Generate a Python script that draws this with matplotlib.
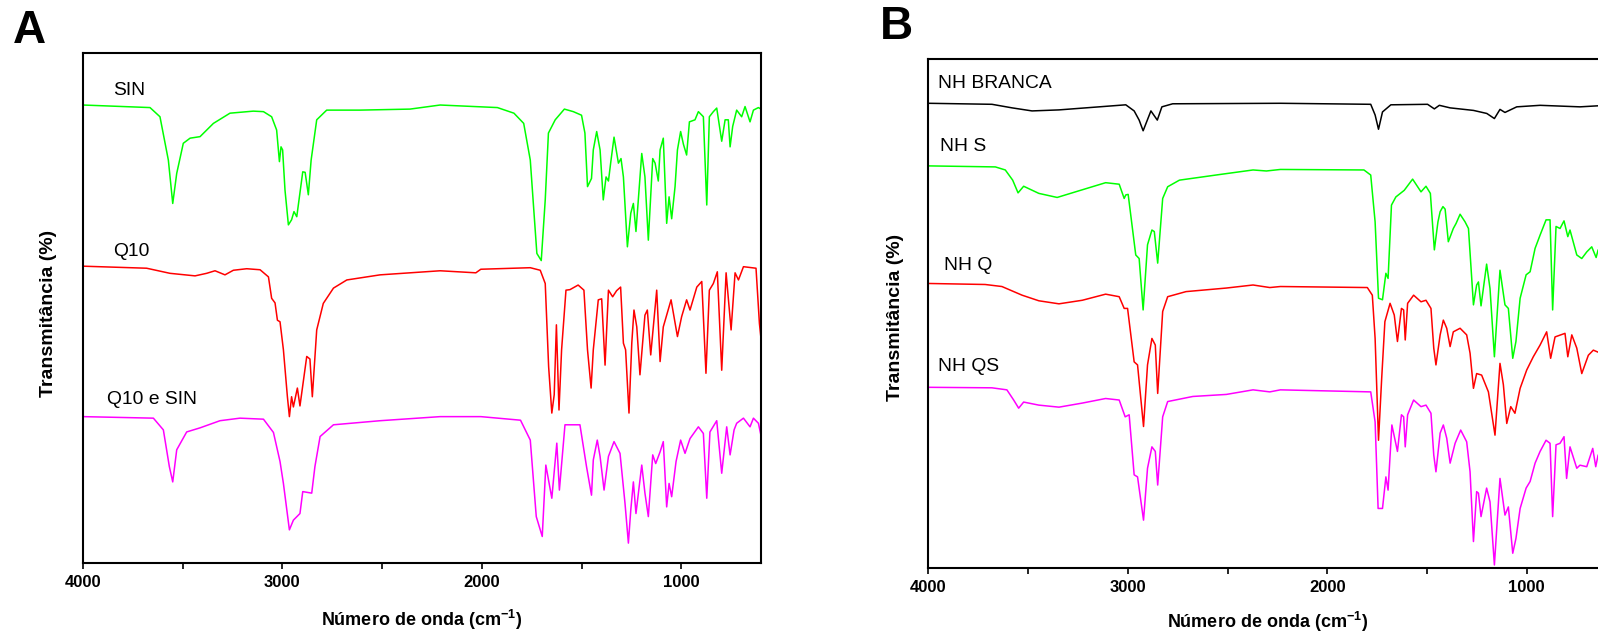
import matplotlib
matplotlib.use("Agg")
import matplotlib.pyplot as plt
from matplotlib.ticker import MultipleLocator

plt.rcParams['font.family'] = ['Liberation Sans', 'DejaVu Sans']
plt.rcParams['mathtext.fontset'] = 'custom'
plt.rcParams['mathtext.rm'] = 'Liberation Sans'
plt.rcParams['mathtext.bf'] = 'Liberation Sans:bold'

# ---------------- Panel A ----------------
sin_wn = [4000, 3664, 3614, 3572, 3550, 3530, 3497, 3463, 3413, 3346, 3263, 3146, 3095, 3054,
          3029, 3015, 3007, 2999, 2987, 2970, 2954, 2942, 2928, 2898, 2886, 2870, 2856, 2828,
          2778, 2611, 2360, 2209, 1922, 1839, 1790, 1757, 1724, 1702, 1682, 1666, 1632, 1586,
          1541, 1500, 1483, 1470, 1450, 1441, 1424, 1407, 1391, 1377, 1365, 1354, 1337, 1315,
          1302, 1290, 1270, 1253, 1240, 1227, 1198, 1182, 1165, 1143, 1131, 1115, 1106, 1090,
          1073, 1061, 1048, 1031, 1019, 1003, 989, 973, 959, 931, 914, 889, 872, 859, 839, 822,
          797, 780, 764, 755, 742, 722, 697, 680, 655, 638, 613, 600]
sin_t = [89.8, 89.3, 87.5, 79.0, 70.5, 76.4, 82.3, 83.3, 83.6, 86.2, 88.2, 88.6, 88.5, 87.5,
         84.9, 78.7, 81.6, 81.0, 73.1, 66.3, 67.3, 68.9, 67.9, 76.7, 76.6, 72.2, 79.0, 86.9,
         88.8, 88.8, 89.0, 89.8, 89.3, 88.2, 86.2, 79.0, 60.7, 59.3, 71.2, 84.3, 86.9, 89.0,
         88.5, 87.8, 84.3, 73.8, 75.4, 81.0, 84.6, 81.0, 71.2, 75.7, 74.9, 78.4, 83.5, 78.4,
         79.3, 75.7, 62.0, 68.6, 70.5, 65.0, 80.3, 75.7, 63.3, 79.3, 78.4, 74.9, 81.0, 83.3,
         66.6, 71.8, 67.5, 73.8, 81.0, 84.6, 82.1, 80.0, 86.5, 86.9, 88.5, 87.5, 70.2, 87.5, 88.5, 89.2,
         82.7, 86.9, 86.9, 81.6, 85.6, 88.8, 87.5, 89.5, 86.5, 88.8, 89.3, 89.0]

q10_wn = [4000, 3681, 3564, 3438, 3380, 3338, 3288, 3246, 3179, 3112, 3070, 3054, 3037, 3025,
          3012, 2995, 2975, 2965, 2954, 2945, 2925, 2912, 2878, 2862, 2850, 2828, 2795, 2744,
          2677, 2510, 2209, 2030, 2005, 1757, 1707, 1682, 1665, 1649, 1637, 1626, 1613, 1600,
          1578, 1558, 1517, 1488, 1470, 1452, 1441, 1416, 1399, 1382, 1365, 1344, 1324, 1304,
          1290, 1279, 1262, 1248, 1237, 1223, 1207, 1182, 1170, 1153, 1123, 1106, 1090, 1051,
          1019, 998, 973, 956, 922, 897, 876, 859, 839, 819, 797, 775, 750, 730, 713, 688, 625,
          608, 600]
q10_t = [58.2, 57.8, 56.8, 56.3, 56.8, 57.3, 56.5, 57.4, 57.7, 57.5, 56.1, 51.9, 51.0, 47.6,
         47.3, 41.8, 32.6, 28.7, 32.6, 30.6, 34.3, 30.8, 40.5, 40.0, 32.6, 45.7, 50.9, 53.9,
         55.5, 56.5, 57.3, 56.9, 57.6, 57.9, 57.4, 54.8, 38.5, 29.4, 33.0, 46.7, 30.0, 41.8,
         53.5, 53.6, 54.5, 53.5, 41.8, 34.3, 41.8, 51.6, 51.8, 38.8, 53.5, 52.2, 53.4, 54.1,
         43.1, 41.8, 29.4, 43.1, 49.6, 46.3, 36.9, 48.6, 49.6, 40.8, 53.5, 39.5, 46.3, 51.6,
         44.4, 48.3, 51.6, 49.6, 54.1, 55.2, 37.2, 53.5, 54.8, 57.1, 37.8, 56.9, 45.7, 56.9, 55.5, 58.1, 57.8,
         47.0, 44.0]

mix_wn = [4000, 3647, 3597, 3567, 3550, 3530, 3480, 3413, 3313, 3213, 3095, 3045, 3012, 2995,
          2965, 2945, 2912, 2898, 2853, 2837, 2811, 2744, 2510, 2209, 2005, 1806, 1757, 1727,
          1697, 1679, 1649, 1624, 1611, 1583, 1508, 1475, 1450, 1441, 1421, 1407, 1387, 1365,
          1337, 1307, 1282, 1265, 1253, 1240, 1227, 1198, 1182, 1165, 1143, 1128, 1106, 1090,
          1073, 1061, 1048, 1026, 1003, 981, 956, 914, 889, 872, 856, 822, 797, 772, 755, 735,
          722, 688, 655, 638, 613, 600]
mix_t = [28.7, 28.4, 26.1, 18.9, 15.9, 22.2, 25.7, 26.5, 27.9, 28.4, 28.2, 25.6, 19.9, 15.6,
         6.5, 8.4, 9.7, 14.0, 13.7, 18.9, 24.8, 27.1, 27.9, 28.7, 28.7, 28.0, 24.1, 9.1,
         5.2, 19.2, 12.7, 23.5, 14.3, 27.1, 27.1, 18.9, 13.3, 20.2, 24.1, 20.9, 14.3, 20.9,
         23.8, 21.5, 11.7, 3.9, 10.4, 15.9, 9.7, 19.2, 13.7, 9.1, 21.2, 19.5, 21.8, 23.8,
         11.0, 15.6, 13.0, 19.9, 24.1, 21.5, 24.4, 26.7, 25.4, 12.7, 25.7, 27.9, 17.6, 26.7, 21.2, 26.1,
         27.4, 28.4, 26.7, 28.4, 27.4, 25.0]

# ---------------- Panel B ----------------
branca_wn = [4000, 3681, 3580, 3480, 3345, 3144, 3010, 2968, 2943, 2923, 2884, 2852, 2829, 2775,
             2235, 1782, 1760, 1743, 1723, 1681, 1497, 1463, 1438, 1384, 1267, 1200, 1162, 1134,
             1109, 1050, 933, 733, 600]
branca_t = [91.3, 91.1, 90.4, 89.8, 90.0, 90.6, 91.0, 89.8, 88.0, 85.9, 89.8, 88.0, 90.6, 91.2,
            91.3, 91.1, 89.0, 86.2, 89.6, 91.0, 91.1, 90.2, 90.9, 90.4, 89.9, 89.3, 88.3, 90.1,
            89.5, 90.6, 90.9, 90.6, 90.9]

nhs_wn = [4000, 3664, 3614, 3577, 3550, 3522, 3446, 3354, 3262, 3111, 3043, 3018, 3010, 2998,
          2960, 2943, 2923, 2901, 2879, 2867, 2850, 2825, 2800, 2741, 2540, 2372, 2305, 2235,
          1816, 1782, 1760, 1743, 1723, 1706, 1695, 1678, 1656, 1614, 1572, 1530, 1505, 1483,
          1463, 1445, 1434, 1420, 1409, 1393, 1368, 1354, 1334, 1309, 1292, 1267, 1251, 1242,
          1229, 1201, 1184, 1162, 1134, 1109, 1092, 1070, 1054, 1033, 1003, 983, 958, 933, 903,
          883, 870, 853, 833, 813, 794, 783, 749, 724, 699, 674, 652, 642, 600]
nhs_t = [79.0, 78.8, 78.2, 76.2, 73.7, 75.0, 73.6, 72.8, 73.9, 75.7, 75.4, 72.6, 73.3, 73.4,
         61.5, 60.8, 50.7, 63.5, 66.4, 66.1, 59.9, 72.6, 74.9, 76.2, 77.3, 78.2, 78.0, 78.3,
         78.2, 77.2, 68.0, 53.0, 52.7, 57.9, 56.9, 71.3, 72.9, 74.2, 76.4, 73.9, 75.0, 73.6,
         62.5, 68.0, 70.0, 71.0, 70.5, 64.1, 66.7, 67.7, 69.5, 68.0, 66.7, 51.7, 55.6, 56.2,
         51.5, 59.7, 54.9, 41.5, 58.5, 51.7, 51.0, 41.2, 44.5, 53.0, 57.6, 58.2, 62.8, 65.4, 68.4,
         68.4, 50.7, 67.1, 66.7, 68.2, 65.1, 66.4, 61.5, 60.8, 62.1, 63.1, 61.0, 62.5, 62.0]

nhq_wn = [4000, 3715, 3631, 3530, 3446, 3345, 3228, 3111, 3043, 3018, 3001, 2968, 2951, 2921,
          2901, 2879, 2862, 2850, 2825, 2800, 2708, 2506, 2372, 2288, 2235, 1799, 1774, 1760,
          1743, 1727, 1711, 1685, 1664, 1648, 1628, 1617, 1609, 1597, 1567, 1530, 1505, 1480,
          1466, 1455, 1434, 1418, 1401, 1384, 1368, 1334, 1301, 1284, 1267, 1251, 1226, 1192,
          1159, 1134, 1117, 1100, 1080, 1059, 1033, 1000, 967, 933, 900, 880, 858, 808, 794,
          774, 749, 724, 691, 666, 642, 600]
nhq_t = [55.9, 55.7, 55.3, 53.6, 52.5, 51.9, 52.6, 53.8, 53.3, 51.0, 51.0, 40.5, 39.9, 27.8,
         39.9, 45.1, 43.8, 34.3, 50.4, 53.3, 54.3, 55.0, 55.6, 55.1, 55.3, 55.1, 53.6, 45.1,
         25.1, 37.3, 48.4, 52.0, 49.7, 44.5, 51.0, 50.7, 44.8, 52.0, 53.6, 52.3, 52.6, 51.0,
         43.2, 39.9, 45.8, 48.7, 47.1, 43.5, 46.4, 47.1, 45.8, 42.2, 35.3, 38.2, 37.9, 34.6,
         26.1, 40.2, 36.0, 28.4, 31.7, 30.4, 35.3, 38.9, 41.5, 43.8, 46.4, 41.2, 45.4, 46.1, 41.5,
         45.8, 43.2, 38.2, 41.8, 42.8, 42.4, 42.5]

nhqs_wn = [4000, 3681, 3606, 3572, 3547, 3522, 3446, 3345, 3228, 3111, 3043, 3013, 2993, 2968,
           2951, 2921, 2901, 2879, 2862, 2850, 2825, 2800, 2674, 2506, 2372, 2288, 2235, 1782,
           1760, 1745, 1723, 1706, 1695, 1676, 1648, 1628, 1617, 1609, 1597, 1567, 1530, 1505,
           1480, 1466, 1455, 1434, 1418, 1401, 1384, 1359, 1331, 1301, 1284, 1267, 1251, 1242,
           1229, 1201, 1184, 1162, 1134, 1109, 1092, 1070, 1054, 1033, 1003, 983, 958, 933, 903,
           883, 870, 853, 833, 813, 800, 783, 749, 733, 699, 669, 654, 642, 600]
nhqs_t = [35.5, 35.4, 35.0, 33.0, 31.4, 32.6, 32.0, 31.6, 32.4, 33.3, 33.0, 29.7, 30.1, 18.3,
          17.9, 9.4, 19.6, 23.8, 22.9, 16.3, 29.7, 32.7, 33.7, 34.1, 35.0, 34.6, 35.0, 34.6,
          28.7, 11.7, 11.7, 17.9, 15.3, 28.1, 22.9, 30.1, 29.7, 23.8, 30.1, 33.0, 31.7, 32.0,
          30.4, 22.2, 18.9, 26.5, 28.1, 25.5, 20.6, 24.5, 27.1, 24.8, 18.9, 5.2, 15.0, 14.7,
          10.1, 15.7, 13.0, 0.6, 17.6, 10.4, 12.0, 2.9, 5.8, 11.7, 15.7, 17.0, 20.6, 22.9, 25.1,
          24.5, 10.1, 24.2, 24.5, 25.8, 17.6, 23.8, 19.6, 20.2, 19.9, 23.5, 19.9, 22.2, 22.0]

tick_pos = [4000, 3000, 2000, 1000]
tick_lab = ['4000', '3000', '2000', '1000']

GREEN = '#00ff00'
RED = '#ff0000'
MAGENTA = '#ff00ff'
BLACK = '#000000'

fig = plt.figure(figsize=(15.98, 6.37), dpi=100)
axA = fig.add_axes([83 / 1598, 74 / 637, 678 / 1598, 510 / 637])
axB = fig.add_axes([928.3 / 1598, 69 / 637, 678.2 / 1598, 509 / 637])


def style_axes(ax):
    ax.set_xlim(4000, 600)
    ax.set_ylim(0, 100)
    ax.set_xticks(tick_pos, labels=tick_lab, fontsize=12, fontweight='bold')
    ax.xaxis.set_minor_locator(MultipleLocator(500))
    ax.tick_params(axis='x', which='both', direction='out', length=4.5, width=1.2,
                   pad=4, top=False)
    ax.tick_params(axis='y', which='both', left=False, labelleft=False)
    for sp in ax.spines.values():
        sp.set_linewidth(1.5)


for ax in (axA, axB):
    style_axes(ax)

lw = 1.1
axA.plot(sin_wn, sin_t, color=GREEN, lw=lw)
axA.plot(q10_wn, q10_t, color=RED, lw=lw)
axA.plot(mix_wn, mix_t, color=MAGENTA, lw=lw)

axB.plot(branca_wn, branca_t, color=BLACK, lw=lw)
axB.plot(nhs_wn, nhs_t, color=GREEN, lw=lw)
axB.plot(nhq_wn, nhq_t, color=RED, lw=lw)
axB.plot(nhqs_wn, nhqs_t, color=MAGENTA, lw=lw)

fs = 13.9
axA.text(3850, 92.7, 'SIN', fontsize=fs, ha='left', va='center')
axA.text(3851, 61.0, 'Q10', fontsize=fs, ha='left', va='center')
axA.text(3881, 32.0, 'Q10 e SIN', fontsize=fs, ha='left', va='center')

axB.text(3950, 95.2, 'NH BRANCA', fontsize=fs, ha='left', va='center')
axB.text(3941, 82.8, 'NH S', fontsize=fs, ha='left', va='center')
axB.text(3920, 59.5, 'NH Q', fontsize=fs, ha='left', va='center')
axB.text(3953, 39.5, 'NH QS', fontsize=fs, ha='left', va='center')

xlab = r'Número de onda (cm$^{\mathbf{-1}}$)'
axA.text(0.5, -0.112, xlab, transform=axA.transAxes, ha='center', va='center',
         fontsize=13, fontweight='bold')
axB.text(0.5, -0.106, xlab, transform=axB.transAxes, ha='center', va='center',
         fontsize=13, fontweight='bold')
axA.text(-0.0516, 0.49, 'Transmitância (%)', transform=axA.transAxes, rotation=90,
         ha='center', va='center', fontsize=14, fontweight='bold')
axB.text(-0.049, 0.493, 'Transmitância (%)', transform=axB.transAxes, rotation=90,
         ha='center', va='center', fontsize=14, fontweight='bold')

fig.text(12.7 / 1598, 1 - 42.7 / 637, 'A', fontsize=33, fontweight='bold', ha='left', va='baseline')
fig.text(880 / 1598, 1 - 39.3 / 637, 'B', fontsize=33, fontweight='bold', ha='left', va='baseline')

fig.savefig('out.png', dpi=100)
